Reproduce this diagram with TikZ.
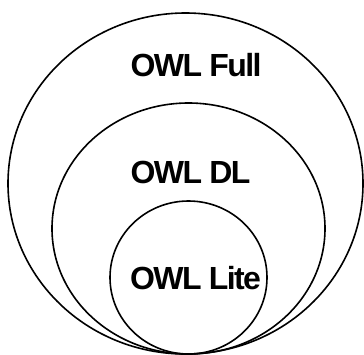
\documentclass[tikz,border=0pt]{standalone}
\usepackage{fontspec}
\setmainfont{Liberation Sans}
\newfontfamily\tagfont[LetterSpace=-5]{Liberation Sans}
\usepackage{tikz}
\usetikzlibrary{shapes.geometric}

\begin{document}
\begin{tikzpicture}[
  x=1pt, y=1pt,
  level/.style={draw, ellipse, line width=1.6pt, inner sep=0pt},
  tag/.style={font=\tagfont\fontsize{32}{32}\selectfont\bfseries, inner sep=0pt, anchor=center}
]
\useasboundingbox (0,0) rectangle (364,-354);
\node[level, minimum width=355pt, minimum height=341pt] (full) at (185.5,-183.5) {};
\node[level, minimum width=273pt, minimum height=251pt] (dl) at (188.5,-228.5) {};
\node[level, minimum width=157pt, minimum height=153pt] (lite) at (188.5,-277.5) {};
\node[tag] (fulltag) at (196,-65) {OWL Full};
\node[tag] (dltag) at (190.5,-172.5) {OWL DL};
\node[tag] (litetag) at (195.5,-278) {OWL Lite};
\end{tikzpicture}
\end{document}
